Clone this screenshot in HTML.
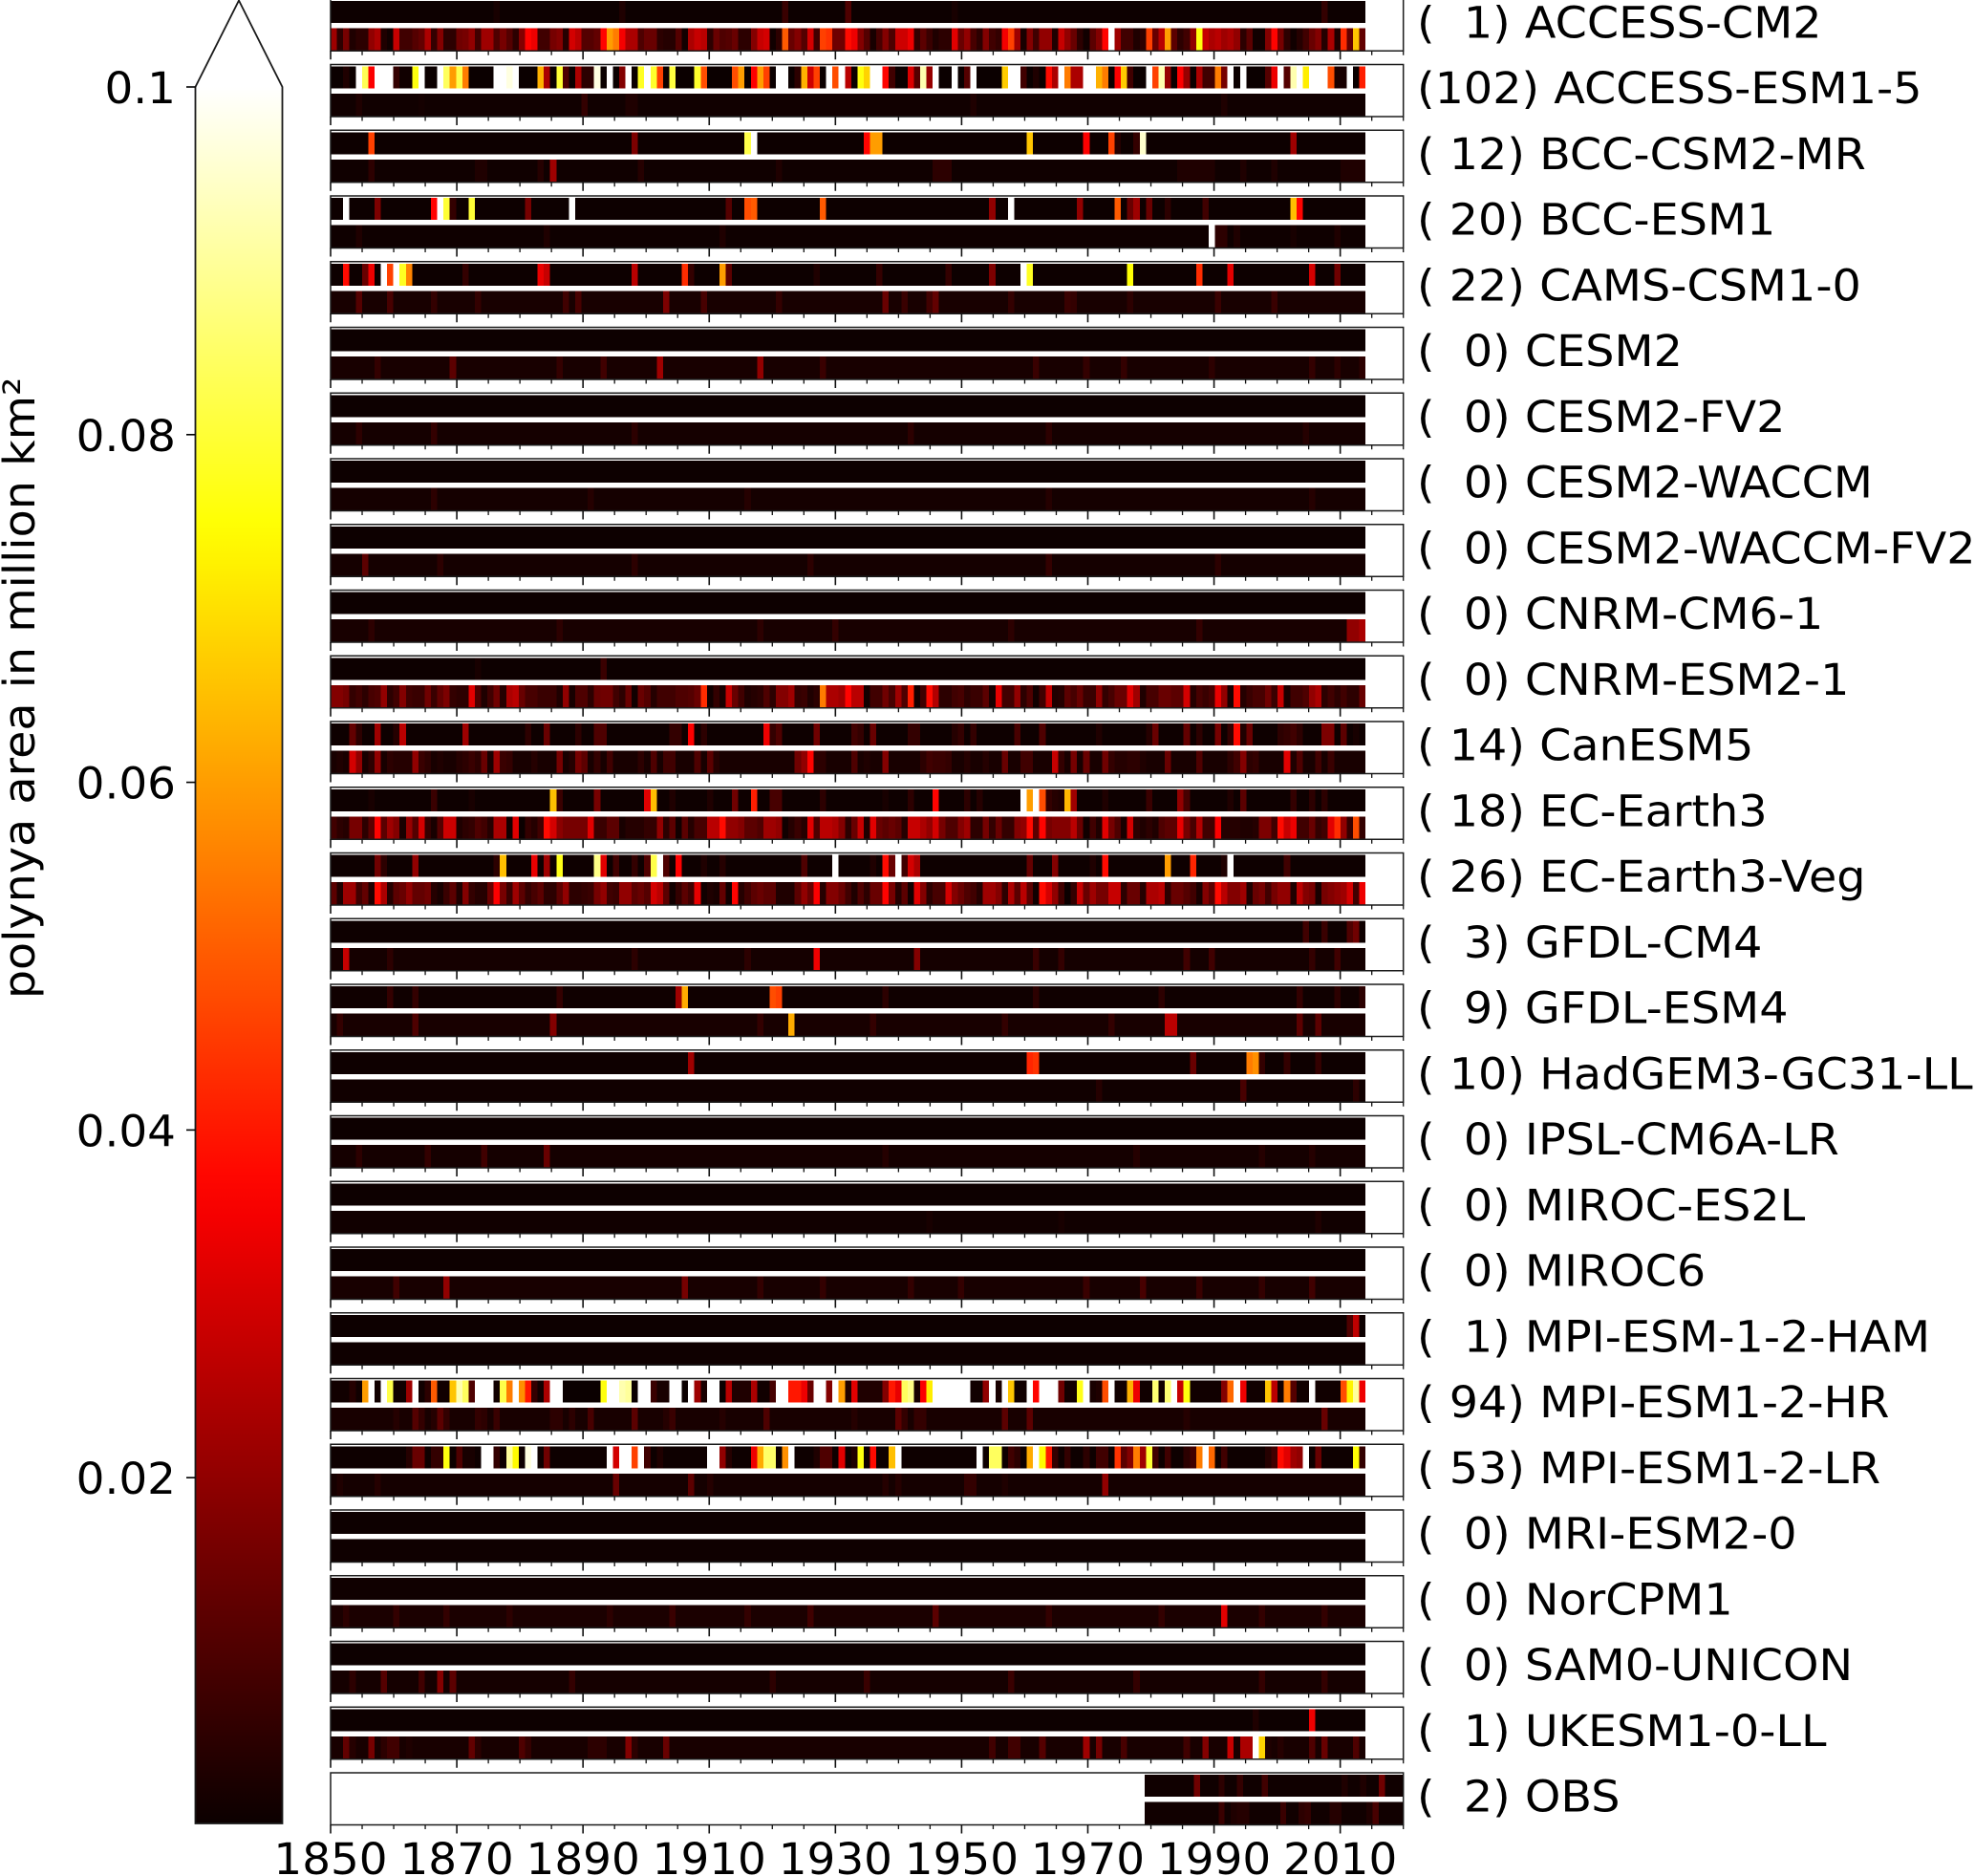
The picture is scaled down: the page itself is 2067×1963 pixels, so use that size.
<!DOCTYPE html>
<html lang="en">
<head>
<meta charset="utf-8">
<title>Polynya area by model</title>
<style>
html,body{margin:0;padding:0;background:#fff;}
#chart{display:block;width:2067px;height:1963px;background:#fff;font-family:"DejaVu Sans",sans-serif;}
#chart text{font-family:"DejaVu Sans",sans-serif;font-size:45.5px;fill:#000;white-space:pre;}
</style>
</head>
<body>
<svg id="chart" xmlns="http://www.w3.org/2000/svg" width="2067" height="1963" viewBox="0 0 2067 1963"></svg>
<script>
// Values are in units of 0.001 million km^2. Dense arrays hold one value per year from 1850;
// sparse arrays hold year,value pairs over a per-strip background level.
const modelNames = ["ACCESS-CM2","ACCESS-ESM1-5","BCC-CSM2-MR","BCC-ESM1","CAMS-CSM1-0","CESM2","CESM2-FV2","CESM2-WACCM","CESM2-WACCM-FV2","CNRM-CM6-1","CNRM-ESM2-1","CanESM5","EC-Earth3","EC-Earth3-Veg","GFDL-CM4","GFDL-ESM4","HadGEM3-GC31-LL","IPSL-CM6A-LR","MIROC-ES2L","MIROC6","MPI-ESM-1-2-HAM","MPI-ESM1-2-HR","MPI-ESM1-2-LR","MRI-ESM2-0","NorCPM1","SAM0-UNICON","UKESM1-0-LL","OBS"];
const polynyaCounts = [1,102,12,20,22,0,0,0,0,0,0,14,18,26,3,9,10,0,0,0,1,94,53,0,0,0,1,2];
const xTickYears = [1850,1870,1890,1910,1930,1950,1970,1990,2010];
const colorbarTicks = [0.02,0.04,0.06,0.08,0.1];
const colorbarTickLabels = ["0.02","0.04","0.06","0.08","0.1"];
const upperBaseLevels = [0.4,0,0.4,0.4,0.4,0.4,0.4,0.4,0.4,0.4,0.4,0.5,0.5,0.5,0.5,0.8,0.5,0.4,0.3,0.4,0.3,0,0.5,0.3,0.8,0.4,0.4,0.8];
const lowerBaseLevels = [0,1,0.8,0.6,2,2,1.5,1.5,1.5,2,0,2,0,0,1.5,2,1,1.5,1,2,0.7,2,1.5,0.7,2.5,1.5,2,1];

const accessCm2Upper = [1876,2,1896,3,1922,7,1932,10,1949,2,2008,6];
const accessCm2Lower = [
22,5,16,3,5,5,20,24,3,1,
28,8,8,11,13,24,6,18,5,5,
15,16,20,8,22,22,10,16,11,5,
18,37,34,8,8,16,18,4,30,26,
11,11,13,37,60,55,35,24,24,10,
14,14,5,4,4,11,1,24,28,26,
5,14,10,11,14,5,5,18,28,30,
1,5,50,14,18,11,30,8,46,44,
15,15,38,34,18,11,2,9,18,10,
29,29,34,6,12,7,3,5,5,32,
14,20,9,5,18,8,6,35,46,22,
2,18,8,20,20,3,28,20,14,5,
1,12,18,37,100,22,8,8,3,5,
46,14,26,60,12,5,8,20,76,28,
24,26,22,24,20,5,12,1,1,18,
37,16,5,1,4,8,14,18,4,24,
3,43,13,66,13];
const accessEsmUpper = [
0,0,3,0,100,83,36,100,100,100,
6,1,1,76,100,0,0,100,84,60,
82,55,0,0,0,0,100,100,97,100,
0,0,0,63,24,0,80,10,0,24,
5,5,97,0,100,0,18,100,0,78,
100,79,46,0,81,0,0,0,79,48,
0,0,0,0,48,60,0,36,60,46,
0,100,100,0,5,63,29,46,0,100,
48,100,26,0,76,68,100,100,37,8,
0,0,31,11,92,21,100,0,0,100,
0,11,100,0,0,0,0,67,100,100,
8,0,3,0,38,24,100,55,24,24,
100,100,63,55,0,36,67,8,0,0,
100,46,92,21,0,36,21,0,24,8,
8,55,16,100,0,100,0,0,0,11,
34,100,11,92,100,72,100,100,100,48,
2,2,100,0,41];
const accessEsmLower = [1854,3,1890,6,1897,3,1898,3,1864,1.5,1952,3,1992,3];
const bccCsm2MrUpper = [1856,46,1898,17,1916,82,1917,100,1935,37,1936,60,1937,60,1961,66,1970,36,1974,46,1975,4,1978,6,1979,95,2003,22];
const bccCsm2MrLower = [1856,5,1883,4,1885,22,1899,4,1873,3,1874,3,1946,5,1947,5,1948,5,1921,3,1985,3,1986,3,1987,3,1988,3,1989,3,1990,3,1995,3,2000,3,2011,3,2012,3,2013,3,2014,3];
const bccEsm1Upper = [1852,100,1857,17,1866,37,1867,100,1868,80,1869,6,1872,80,1881,16,1888,100,1913,11,1916,48,1917,50,1928,50,1955,20,1958,100,1969,20,1975,50,1977,14,1978,22,1980,14,1983,5,1989,8,2003,65,2004,37];
const bccEsm1Lower = [1854,3,1884,3,1912,3,1990,100,1991,5,1992,5,1994,3,2003,2,2010,3];
const camsUpper = [1852,38,1855,14,1856,34,1858,100,1859,46,1860,100,1861,78,1862,56,1871,6,1883,33,1884,28,1898,26,1906,43,1907,6,1912,60,1913,12,1927,3,1937,6,1948,6,1955,17,1960,100,1961,78,1977,75,1988,43,1993,32,2006,30,2010,15];
const camsLower = [1854,11,1859,9,1903,17,1909,9,1938,14,1945,8,1946,13,1887,8,1889,9,1866,6,1873,6,1921,6,1958,6,1967,7,1968,6,2000,7,1991,7,1977,5,1941,7];
const cesm2Upper = [];
const cesm2Lower = [1902,22,1918,20,1869,12,1857,6,1886,6,1893,8,1928,7,1962,7,1970,6,1976,6,1990,5,2006,6,2010,5,2014,5];
const cesm2Fv2Upper = [];
const cesm2Fv2Lower = [1854,5,1866,6,1898,5,1942,5,1964,5,2005,4];
const waccmUpper = [];
const waccmLower = [1866,5,1891,4,1916,4,1964,4,2006,4];
const waccmFv2Upper = [];
const waccmFv2Lower = [1855,12,1867,5,1898,5,1926,5,1964,6,1991,5];
const cnrmCm6Upper = [];
const cnrmCm6Lower = [2012,20,2013,20,2014,24,1856,5,1886,5,1918,5,1930,6,1958,5,1988,6];
const cnrmEsmUpper = [1873,2,1893,7];
const cnrmEsmLower = [
18,18,16,6,8,5,9,10,20,5,
8,18,8,7,7,15,7,13,17,6,
5,5,32,10,3,8,15,4,24,26,
14,9,9,7,7,7,3,20,2,10,
10,5,14,15,15,8,5,14,1,14,
11,4,8,8,8,10,10,11,14,43,
1,6,2,28,14,8,3,4,5,10,
5,18,18,22,6,7,3,5,55,24,
24,22,37,26,26,1,8,8,15,9,
22,10,41,1,8,38,25,5,5,8,
9,5,7,7,12,2,33,8,8,20,
5,10,1,8,28,3,4,12,9,14,
7,7,20,6,9,14,14,32,22,3,
9,9,14,14,12,12,30,4,9,7,
9,33,20,2,38,4,7,9,9,15,
7,28,2,8,8,10,20,24,5,8,
5,8,5,5,14];
const canEsmUpper = [1853,13,1854,5,1857,22,1860,4,1861,26,1871,22,1881,5,1884,14,1889,5,1892,10,1893,10,1904,6,1905,6,1907,36,1909,5,1919,34,1920,6,1921,10,1927,15,1933,8,1934,6,1936,14,1942,6,1943,6,1949,4,1950,6,1952,6,1959,9,1963,10,1972,3,1980,4,1981,14,1986,13,1988,5,1991,16,1993,6,1994,38,1995,3,1996,14,2001,5,2002,6,2003,8,2004,5,2008,17,2009,17,2011,12,2013,2];
const canEsmLower = [1851,3,1853,30,1854,20,1856,5,1857,20,1859,5,1860,4,1861,4,1862,4,1863,20,1864,7,1865,5,1867,3,1870,4,1871,5,1872,7,1873,5,1874,14,1876,22,1877,7,1878,6,1882,4,1886,16,1888,4,1889,16,1890,12,1892,6,1894,8,1899,5,1901,10,1903,8,1904,8,1908,10,1910,12,1911,4,1924,15,1925,20,1926,37,1927,5,1928,5,1933,10,1935,3,1938,18,1944,5,1945,8,1946,7,1947,7,1948,6,1951,4,1954,4,1957,14,1960,8,1961,8,1965,28,1966,6,1968,16,1970,14,1973,15,1974,6,1975,4,1976,4,1977,5,1978,5,1979,3,1983,14,1988,10,1993,5,1994,8,1995,18,1996,5,1997,6,2002,32,2003,3,2004,10,2007,8,2009,7];
const ecEarthUpper = [1856,2,1866,7,1872,2,1885,65,1886,7,1892,16,1900,32,1901,65,1904,3,1910,3,1914,15,1917,41,1920,9,1921,9,1928,5,1938,2,1942,5,1946,37,1951,5,1953,4,1960,100,1961,60,1962,100,1963,48,1964,6,1965,4,1966,3,1967,64,1968,22,1973,3,1980,7,1985,20,1986,9,1993,3,1995,12,2003,6,2006,5,2008,5];
const ecEarthLower = [
8,5,4,16,16,5,12,37,12,22,
18,2,21,11,30,6,2,11,29,29,
3,5,6,10,8,4,24,24,1,32,
0,6,4,8,38,30,19,16,16,16,
16,32,7,7,12,12,2,4,4,4,
6,6,20,5,12,1,12,4,9,9,
26,26,38,20,20,18,12,12,10,22,
22,20,1,4,7,4,32,10,26,26,
24,18,5,14,28,3,32,14,12,14,
12,4,28,28,24,20,30,16,10,10,
18,22,5,5,16,6,14,6,6,18,
20,38,12,37,16,18,18,18,26,14,
1,8,3,32,16,10,2,30,5,3,
5,3,10,12,12,33,16,9,25,8,
8,36,4,4,4,3,3,4,17,17,
8,38,28,34,8,8,14,6,8,32,
43,20,6,48,6];
const ecVegUpper = [1857,15,1858,5,1863,20,1876,5,1877,65,1882,33,1884,22,1886,77,1892,88,1893,32,1895,8,1898,6,1900,10,1901,82,1902,100,1903,10,1905,36,1909,3,1912,4,1925,10,1930,100,1936,3,1938,38,1939,14,1940,100,1941,8,1942,30,1943,24,1961,13,1965,18,1971,3,1973,38,1983,60,1987,42,1992,3,1993,100,2002,8];
const ecVegLower = [
12,3,22,22,8,13,3,38,24,4,
12,14,20,13,13,15,4,2,7,12,
3,18,6,4,4,14,36,16,7,22,
12,6,9,12,5,5,12,20,5,5,
6,7,16,20,8,7,20,20,12,14,
11,30,26,12,1,6,12,8,33,1,
3,2,13,1,37,4,8,12,14,12,
12,3,3,3,12,20,14,36,4,18,
18,14,8,3,10,5,14,14,37,16,
4,12,1,32,18,5,9,9,30,18,
14,10,8,4,22,22,18,5,24,12,
26,12,1,38,30,20,8,0,6,28,
14,22,16,16,28,28,5,14,14,4,
24,24,26,5,14,14,11,8,2,18,
12,38,26,18,18,22,3,14,16,8,
16,20,20,3,26,18,16,2,16,18,
20,22,30,8,34];
const gfdlCm4Upper = [2005,8,2008,7,2012,10,2013,15];
const gfdlCm4Lower = [1852,28,1927,34,1943,18,1962,7,1966,6,1986,8,1990,8,2006,6,2010,8,1859,5,1898,5,1916,5];
const gfdlEsm4Upper = [1905,22,1906,62,1920,48,1921,46,1859,6,1863,6,1886,6,1938,5,1962,5,1982,5,2004,6,2010,5,2014,5];
const gfdlEsm4Lower = [1851,6,1863,10,1885,18,1923,62,1983,26,1984,26,2004,12,2007,12,1918,6,1936,6,1957,6,1974,6];
const hadgemUpper = [1907,22,1961,42,1962,44,1996,55,1997,58,1987,14,1998,6,2002,6,2007,6];
const hadgemLower = [1995,9,2013,5,1972,4];
const ipslUpper = [];
const ipslLower = [1865,6,1874,8,1884,14,1854,5,1978,4,2006,4,1998,4,1938,4];
const mirocEs2lUpper = [];
const mirocEs2lLower = [1945,2,1966,2,2007,3];
const miroc6Upper = [];
const miroc6Lower = [1868,20,1906,16,1860,8,1942,6,1928,6,1918,6,1970,7,1979,9,1988,7,2006,8,1950,6,1998,6];
const mpiHamUpper = [2012,10,2013,27];
const mpiHamLower = [];
const mpiHrUpper = [
1,1,1,4,1,60,100,1,100,82,
1,1,22,100,1,5,50,1,1,66,
92,84,10,100,100,100,1,82,55,100,
58,40,6,1,24,100,100,0,0,0,
0,0,0,76,100,100,92,90,0,100,
100,7,2,2,100,100,0,100,22,2,
100,100,0,26,3,3,3,24,1,1,
9,100,100,40,40,34,14,100,100,18,
100,60,3,32,3,3,3,3,18,40,
33,84,88,2,36,72,100,100,100,100,
100,100,1,1,20,100,2,100,66,1,
1,100,37,100,100,100,15,1,1,77,
100,2,3,48,100,1,1,63,34,1,
1,86,1,86,100,28,76,1,1,1,
1,1,18,52,100,34,1,1,1,66,
26,1,55,11,1,1,100,1,1,1,
1,48,73,90,34];
const mpiHrLower = [1860,4,1863,11,1864,6,1866,4,1867,12,1868,6,1873,6,1874,5,1876,7,1885,5,1886,5,1888,5,1891,9,1898,12,1903,4,1904,7,1912,4,1919,10,1933,4,1940,12,1941,6,1943,6,1944,6,1957,12,1961,12,1986,4,2008,14];
const mpiLrUpper = [1862,4,1863,14,1864,14,1866,6,1867,6,1868,76,1870,10,1871,2,1872,2,1874,100,1875,100,1876,6,1878,90,1879,74,1881,97,1882,100,1884,15,1894,100,1895,30,1896,100,1897,100,1898,46,1899,100,1900,8,1902,3,1910,100,1911,100,1912,20,1913,4,1917,34,1918,62,1919,85,1920,85,1922,58,1923,100,1927,3,1928,10,1929,10,1931,32,1933,3,1934,76,1936,38,1939,65,1940,100,1953,100,1955,84,1956,84,1958,8,1959,5,1961,62,1962,100,1963,74,1964,40,1965,6,1967,6,1970,5,1972,8,1973,8,1975,44,1976,12,1977,18,1978,55,1979,22,1980,80,1981,8,1983,8,1986,5,1987,8,1988,55,1989,100,1990,52,1992,8,1999,4,2000,8,2001,38,2002,32,2003,22,2004,20,2005,100,2007,14,2013,75,2014,6];
const mpiLrLower = [1895,14,1973,20,1907,12,1910,4,1851,3,1857,4,1938,4,1940,4,1951,6,1952,6,1957,3];
const mriUpper = [];
const mriLower = [];
const norCpmUpper = [];
const norCpmLower = [1992,32,1946,12,1926,8,1868,6,1904,7,2008,6,1998,6,1878,5,1964,6,1852,5,1860,6,1894,5,1916,6,1982,6];
const samUpper = [];
const samLower = [1858,11,1867,18,1869,12,1853,5,1864,8,1888,6,1935,7,1958,7,1920,5,1978,6,1998,6,2008,6];
const ukesmUpper = [2006,34,1997,3];
const ukesmLower = [1852,13,1853,4,1856,16,1858,5,1859,8,1860,8,1862,3,1872,13,1873,5,1880,10,1881,6,1891,5,1892,5,1893,5,1897,18,1898,5,1903,14,1955,8,1958,8,1959,8,1963,11,1970,22,1972,16,1976,9,1986,8,1989,18,1993,28,1995,24,1996,24,1997,100,1998,68,1999,3,2001,4,2006,10,2008,14,2013,10];
const obsUpper = [1987,15,1991,5,1994,6,1998,8,2011,3,2014,3,2017,15];
const obsLower = [1991,7,1993,3,1994,4,1995,4,2001,7,2004,5,2005,6,2009,4,2010,4,2015,3,2016,9];

const upperStrips = [accessCm2Upper,accessEsmUpper,bccCsm2MrUpper,bccEsm1Upper,camsUpper,cesm2Upper,cesm2Fv2Upper,waccmUpper,waccmFv2Upper,cnrmCm6Upper,cnrmEsmUpper,canEsmUpper,ecEarthUpper,ecVegUpper,gfdlCm4Upper,gfdlEsm4Upper,hadgemUpper,ipslUpper,mirocEs2lUpper,miroc6Upper,mpiHamUpper,mpiHrUpper,mpiLrUpper,mriUpper,norCpmUpper,samUpper,ukesmUpper,obsUpper];
const lowerStrips = [accessCm2Lower,accessEsmLower,bccCsm2MrLower,bccEsm1Lower,camsLower,cesm2Lower,cesm2Fv2Lower,waccmLower,waccmFv2Lower,cnrmCm6Lower,cnrmEsmLower,canEsmLower,ecEarthLower,ecVegLower,gfdlCm4Lower,gfdlEsm4Lower,hadgemLower,ipslLower,mirocEs2lLower,miroc6Lower,mpiHamLower,mpiHrLower,mpiLrLower,mriLower,norCpmLower,samLower,ukesmLower,obsLower];

const NS = 'http://www.w3.org/2000/svg';
const svg = document.getElementById('chart');
const X0 = 346, X1 = 1468.7, PANEL_TOP = -1.25, PANEL_STEP = 68.75, PANEL_H = 54.5;
const CB_LEFT = 204.5, CB_RIGHT = 295.5, CB_TOP = 91, CB_BOTTOM = 1908;
const UNIT = 0.001;

function xScale(year){ return X0 + (year - 1850) * (X1 - X0) / 170; }
function cbScale(value){ return CB_TOP + (0.1 - value) * (1910 - CB_TOP) / 0.1; }
function panelTop(i){ return PANEL_TOP + i * PANEL_STEP; }
function hot(value){
  const t = Math.max(0, Math.min(1, value / 0.1));
  const r = t < 0.365 ? 0.0416 + t * 0.9584 / 0.365 : 1;
  const g = t < 0.365 ? 0 : t < 0.746 ? (t - 0.365) / 0.381 : 1;
  const b = t < 0.746 ? 0 : (t - 0.746) / 0.254;
  return 'rgb(' + Math.round(r * 255) + ',' + Math.round(g * 255) + ',' + Math.round(b * 255) + ')';
}
function make(tag, parent, props){
  const el = document.createElementNS(NS, tag);
  for (const k in props) el.setAttribute(k, props[k]);
  parent.appendChild(el);
  return el;
}
function expand(spec, base, firstYear, n){
  const out = new Array(n).fill(base);
  if (spec.length === n) { for (let i = 0; i < n; i++) out[i] = spec[i]; return out; }
  for (let i = 0; i + 1 < spec.length; i += 2) {
    const idx = spec[i] - firstYear;
    if (idx >= 0 && idx < n) out[idx] = spec[i + 1];
  }
  return out;
}
function drawStrip(parent, spec, base, y, h, isObs, stripName){
  const g = make('g', parent, {'shape-rendering': 'crispEdges'});
  
  
  const first = isObs ? 1979 : 1850;
  const last = isObs ? 2020 : 2014;
  const n = isObs ? 42 : 165;
  const values = expand(spec, base, first, n);
  const left = xScale(first);
  const step = (xScale(last) - left) / (isObs ? 42 : 165);
  for (let i = 0; i < n; i++) {
    const r = make('rect', g, {x: (left + i * step).toFixed(2), y: y, width: step.toFixed(3), height: h, fill: hot(values[i] * UNIT)});
    
    
  }
}

// Colorbar
const defs = make('defs', svg, {});
const grad = make('linearGradient', defs, {id: 'hotGrad', gradientUnits: 'userSpaceOnUse', x1: 0, y1: cbScale(0), x2: 0, y2: cbScale(0.1)});
for (let i = 0; i <= 40; i++) {
  make('stop', grad, {offset: i / 40, 'stop-color': hot(0.1 * i / 40)});
}
const cbGroup = make('g', svg, {});


const cbFill = make('rect', cbGroup, {x: CB_LEFT, y: CB_TOP, width: CB_RIGHT - CB_LEFT, height: CB_BOTTOM - CB_TOP, fill: 'url(#hotGrad)'});


const cbOutline = make('path', cbGroup, {d: 'M' + CB_LEFT + ' ' + CB_BOTTOM + 'V' + CB_TOP + 'L250 0.5L' + CB_RIGHT + ' ' + CB_TOP + 'V' + CB_BOTTOM + 'Z', fill: 'none', stroke: '#1a1a1a', 'stroke-width': 1.8});


colorbarTicks.forEach(function(v, i){
  const y = cbScale(v);
  const t = make('line', cbGroup, {x1: 195, x2: CB_LEFT, y1: y, y2: y, stroke: '#000', 'stroke-width': 1.6});
  
  
  const lab = make('text', cbGroup, {transform: 'translate(184,' + (y + 17) + ') scale(1.03,1)', 'text-anchor': 'end'});
  lab.textContent = colorbarTickLabels[i];
  
  
});
const cbTitle = make('text', svg, {transform: 'translate(36,720) rotate(-90) scale(1.047,1)', 'text-anchor': 'middle'});
cbTitle.textContent = 'polynya area in million km²';



// Panels
modelNames.forEach(function(name, i){
  const T = panelTop(i);
  const isObs = name === 'OBS';
  const key = name.toLowerCase();
  const panel = make('g', svg, {});
  
  
  drawStrip(panel, upperStrips[i], upperBaseLevels[i], T + 2, 23, isObs, 'upper-strip-' + key);
  drawStrip(panel, lowerStrips[i], lowerBaseLevels[i], T + 30.5, 23.5, isObs, 'lower-strip-' + key);
  const frame = make('rect', panel, {x: X0, y: T, width: X1 - X0, height: PANEL_H, fill: 'none', stroke: '#1c1c1c', 'stroke-width': 1.5});
  
  
  for (let yr = 1850; yr <= 2020; yr += 5) {
    const major = (yr - 1850) % 20 === 0;
    const tick = make('line', panel, {x1: xScale(yr), x2: xScale(yr), y1: T + PANEL_H, y2: T + PANEL_H + (major ? 9 : 4.5), stroke: '#111', 'stroke-width': major ? 1.6 : 1.3});
    
    
  }
  const label = make('text', panel, {transform: 'translate(1483,' + (T + 40.5) + ') scale(1.047,1)', 'xml:space': 'preserve'});
  label.textContent = '(' + String(polynyaCounts[i]).padStart(3, ' ') + ') ' + name;
  
  
});

// X tick labels
xTickYears.forEach(function(yr){
  const t = make('text', svg, {transform: 'translate(' + xScale(yr) + ',1961) scale(1.03,1)', 'text-anchor': 'middle'});
  t.textContent = String(yr);
  
  
});
</script>
</body>
</html>
